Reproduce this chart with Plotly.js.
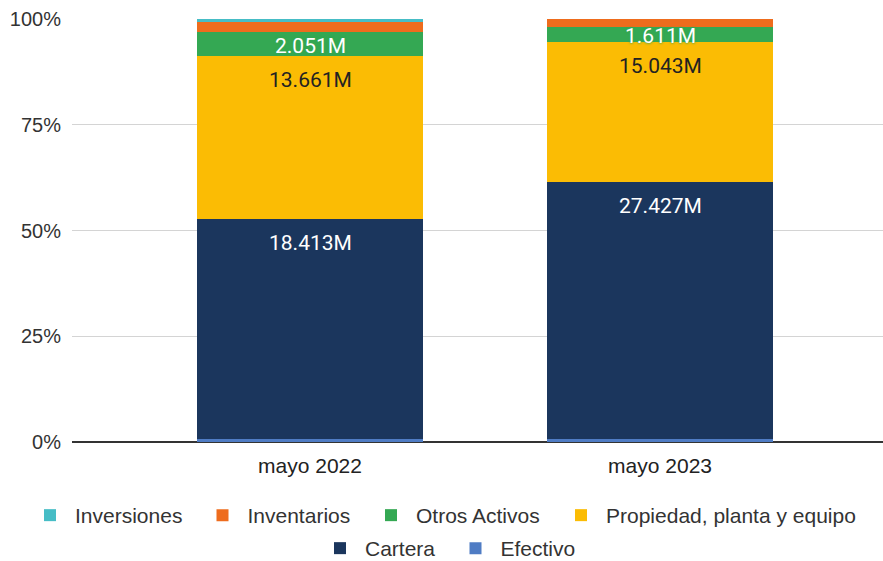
<!DOCTYPE html>
<html>
<head>
<meta charset="utf-8">
<script src="https://cdn.plot.ly/plotly-3.0.1.min.js"></script>
<style>html,body{margin:0;padding:0;background:#fff}#chart{width:883px;height:561px}</style>
</head>
<body>
<div id="chart"></div>
<script>
// Data (millions)
var categories = ["mayo 2022", "mayo 2023"];
var seriesNames = ["Efectivo", "Cartera", "Propiedad, planta y equipo", "Otros Activos", "Inventarios", "Inversiones"];
var efectivo    = [0.26, 0.36];
var cartera     = [18.413, 27.427];
var propiedad   = [13.661, 15.043];
var otros       = [2.051, 1.611];
var inventarios = [0.85, 0.78];
var inversiones = [0.24, 0.03];
var labelFlags  = [false, true, true, true, false, false];
var tickValues  = [0, 25, 50, 75, 100];
var tickLabels  = ["0%", "25%", "50%", "75%", "100%"];

var series = [efectivo, cartera, propiedad, otros, inventarios, inversiones];
var colors = ["#4F7CC4", "#1B365D", "#FBBC04", "#34A853", "#EE6C1D", "#46BDC6"];
var labelColors = [null, "#ffffff", "#222222", "#ffffff", null, null];
var legendIds = ["legend6", "legend5", "legend4", "legend3", "legend2", "legend"];
// legend item placement (page px): left of item, row centre
var legendPlace = {
  legend:  [25, 515.5], legend2: [197.5, 515.5], legend3: [366, 515.5], legend4: [556, 515.5],
  legend5: [315, 548.5], legend6: [450.5, 548.5]
};

var traces = series.map(function (vals, i) {
  return {
    type: "bar",
    name: seriesNames[i],
    x: categories,
    y: vals,
    width: 0.646,
    legend: legendIds[i],
    marker: {color: colors[i], line: {width: 0}},
    hoverinfo: "name+y"
  };
});

// totals & cumulative percents for labels
var totals = categories.map(function (c, j) {
  return series.reduce(function (s, arr) { return s + arr[j]; }, 0);
});
var annotations = [];
categories.forEach(function (c, j) {
  var cum = 0;
  series.forEach(function (arr, i) {
    var pctBottom = cum;
    cum += arr[j] / totals[j] * 100;
    if (!labelFlags[i]) return;
    var isOtros = (i === 3);
    annotations.push({
      x: c, xref: "x", yref: "y",
      y: isOtros ? (pctBottom + cum) / 2 : cum,
      yshift: isOtros ? -1.5 : -24,
      text: arr[j].toFixed(3) + "M",
      showarrow: false,
      font: {family: "Roboto, sans-serif", size: 21, color: labelColors[i],
             shadow: isOtros ? "0 0 3px #34A853, 0 0 2px #34A853" : "none"}
    });
  });
});

var W = 883, H = 561;
var legendFont = {family: "Liberation Sans, Arial, sans-serif", size: 21, color: "#333333"};

var layout = {
  width: W, height: H,
  margin: {l: 72, r: 0, t: 19, b: 119, autoexpand: false},
  paper_bgcolor: "#ffffff", plot_bgcolor: "#ffffff",
  barmode: "stack",
  barnorm: "percent",
  font: {family: "Liberation Sans, Arial, sans-serif", size: 20, color: "#333333"},
  xaxis: {
    type: "category",
    range: [-0.68, 1.637],
    showgrid: false, zeroline: false, showline: false,
    ticks: "", ticklabelstandoff: 9,
    tickfont: {family: "Liberation Sans, Arial, sans-serif", size: 21, color: "#222222"},
    fixedrange: true
  },
  yaxis: {
    range: [0, 100],
    tickvals: tickValues,
    ticktext: tickLabels,
    showgrid: true, gridcolor: "#d4d4d4", gridwidth: 1,
    zeroline: true, zerolinecolor: "#333333", zerolinewidth: 2,
    ticks: "", ticklabelstandoff: 10,
    tickfont: {family: "Liberation Sans, Arial, sans-serif", size: 20, color: "#333333"},
    fixedrange: true
  },
  showlegend: true,
  annotations: annotations
};

Object.keys(legendPlace).forEach(function (id) {
  layout[id] = {
    orientation: "h",
    xref: "container", yref: "container",
    xanchor: "left", yanchor: "middle",
    x: legendPlace[id][0] / W,
    y: 1 - legendPlace[id][1] / H,
    font: legendFont, itemwidth: 40,
    bgcolor: "rgba(0,0,0,0)", borderwidth: 0
  };
});

Plotly.newPlot("chart", traces, layout, {displayModeBar: false, staticPlot: true});
</script>
</body>
</html>
